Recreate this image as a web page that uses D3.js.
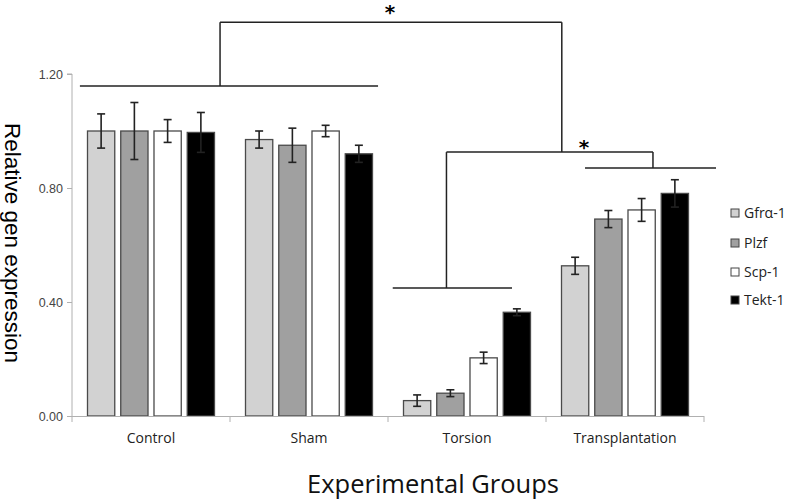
<!DOCTYPE html>
<html><head><meta charset="utf-8">
<script src="https://cdn.jsdelivr.net/npm/d3@7"></script>
<style>body{margin:0;background:#fff}svg{display:block}</style>
</head><body>
<svg id="c" width="788" height="499"></svg>
<script>
const groups = ["Control","Sham","Torsion","Transplantation"];
const series = ["Gfrα-1","Plzf","Scp-1","Tekt-1"];
const colors = ["#d2d2d2","#a0a0a0","#ffffff","#000000"];
// values[group][series]
const values = [
  [1.00, 1.00, 1.00, 0.995],
  [0.97, 0.95, 1.00, 0.92],
  [0.054, 0.080, 0.204, 0.364],
  [0.527, 0.691, 0.723, 0.781]
];
const errors = [
  [0.06, 0.10, 0.04, 0.07],
  [0.03, 0.06, 0.02, 0.03],
  [0.02, 0.012, 0.02, 0.012],
  [0.03, 0.03, 0.04, 0.048]
];
const yTicks = [0, 0.4, 0.8, 1.2];
// significance brackets: x in group units (0..4), y in data units
const hLines = [
  {x1:0.05, x2:1.937, y:1.158},   // Control+Sham
  {x1:2.03, x2:2.785, y:0.449},   // Torsion
  {x1:3.247, x2:4.076, y:0.870},  // Transplantation
  {x1:0.937, x2:3.10, y:1.382},   // top bracket
  {x1:2.37, x2:3.677, y:0.926}    // second bracket
];
const vLines = [
  {x:0.937, y1:1.158, y2:1.382},
  {x:3.10, y1:0.926, y2:1.382},
  {x:2.37, y1:0.449, y2:0.926},
  {x:3.677, y1:0.870, y2:0.926}
];
const stars = [{x:2.013, y:1.431}, {x:3.24, y:0.958}];

const svg = d3.select("#c");
const x0 = 72, x1 = 704, yB = 416, yT = 74;
const y = d3.scaleLinear().domain([0,1.2]).range([yB,yT]);
const gx = d3.scaleBand().domain(groups).range([x0,x1]);
const gu = d3.scaleLinear().domain([0,4]).range([x0,x1]);
const sx = d3.scaleBand().domain(series).range([15.5, gx.bandwidth()-15.5]).paddingInner(0.18);

// y axis
const ya = svg.append("g").attr("transform",`translate(${x0},0)`)
  .call(d3.axisLeft(y).tickValues(yTicks).tickFormat(d3.format(".2f")).tickSize(5).tickPadding(4));
ya.select(".domain").attr("stroke","#b0b0b0");
ya.selectAll(".tick line").attr("stroke","#b0b0b0");
ya.selectAll(".tick text").attr("fill","#444").style("font-family","Liberation Sans, Arial, sans-serif").style("font-size","12.5px");
ya.select(".domain").attr("d",`M-5,${yT}H0V${yB}`);

// bars
const gg = svg.append("g");
groups.forEach((g,gi)=>{
  series.forEach((s,si)=>{
    const bx = gx(g)+sx(s), bw = sx.bandwidth();
    gg.append("rect").attr("x",bx).attr("y",y(values[gi][si])).attr("width",bw)
      .attr("height",yB-y(values[gi][si])).attr("fill",colors[si])
      .attr("stroke","#4a4a4a").attr("stroke-width",1.3);
  });
});
// error bars
groups.forEach((g,gi)=>{
  series.forEach((s,si)=>{
    const cx = gx(g)+sx(s)+sx.bandwidth()/2;
    const v = values[gi][si], e = errors[gi][si];
    const col = "#222";
    gg.append("line").attr("x1",cx).attr("x2",cx).attr("y1",y(v+e)).attr("y2",y(v-e)).attr("stroke",col).attr("stroke-width",1.6);
    [v+e, v-e].forEach(t=>{
      gg.append("line").attr("x1",cx-4).attr("x2",cx+4).attr("y1",y(t)).attr("y2",y(t)).attr("stroke",col).attr("stroke-width",1.6);
    });
  });
});

// x axis
const xa = svg.append("g");
xa.append("line").attr("x1",x0).attr("x2",x1).attr("y1",yB+0.5).attr("y2",yB+0.5).attr("stroke","#b0b0b0");
d3.range(5).forEach(i=>{
  xa.append("line").attr("x1",gu(i)).attr("x2",gu(i)).attr("y1",yB).attr("y2",yB+6).attr("stroke","#b0b0b0");
});
groups.forEach(g=>{
  xa.append("text").attr("x",gx(g)+gx.bandwidth()/2).attr("y",443).attr("text-anchor","middle")
    .attr("fill","#222").style("font-family","Open Sans, sans-serif").style("font-size","14px").text(g);
});

// brackets
const bk = svg.append("g").attr("stroke","#222").attr("stroke-width",1.5);
hLines.forEach(d=>bk.append("line").attr("x1",gu(d.x1)).attr("x2",gu(d.x2)).attr("y1",y(d.y)).attr("y2",y(d.y)));
vLines.forEach(d=>bk.append("line").attr("x1",gu(d.x)).attr("x2",gu(d.x)).attr("y1",y(d.y1)).attr("y2",y(d.y2)));
stars.forEach(d=>svg.append("text").attr("x",gu(d.x)).attr("y",y(d.y)+11).attr("text-anchor","middle")
  .attr("fill","#000").style("font-family","DejaVu Sans, sans-serif").style("font-weight","bold").style("font-size","20px").text("*"));

// legend
const lg = svg.append("g").attr("transform","translate(731,0)");
const ly = [213, 243, 272, 300];
series.forEach((s,i)=>{
  lg.append("rect").attr("x",0).attr("y",ly[i]-4).attr("width",8).attr("height",8)
    .attr("fill",colors[i]).attr("stroke","#444").attr("stroke-width",1);
  lg.append("text").attr("x",13).attr("y",ly[i]+5).attr("fill","#222")
    .style("font-family","Open Sans, sans-serif").style("font-size","14px").text(s);
});

// titles
svg.append("text").attr("transform","translate(5,243) rotate(90)").attr("text-anchor","middle")
  .attr("fill","#000").style("font-family","Liberation Sans, Arial, sans-serif").style("font-size","22.5px").text("Relative gen expression");
svg.append("text").attr("x",433).attr("y",493).attr("text-anchor","middle")
  .attr("fill","#111").style("font-family","Open Sans, sans-serif").style("font-size","25.5px").text("Experimental Groups");
</script>
</body></html>
